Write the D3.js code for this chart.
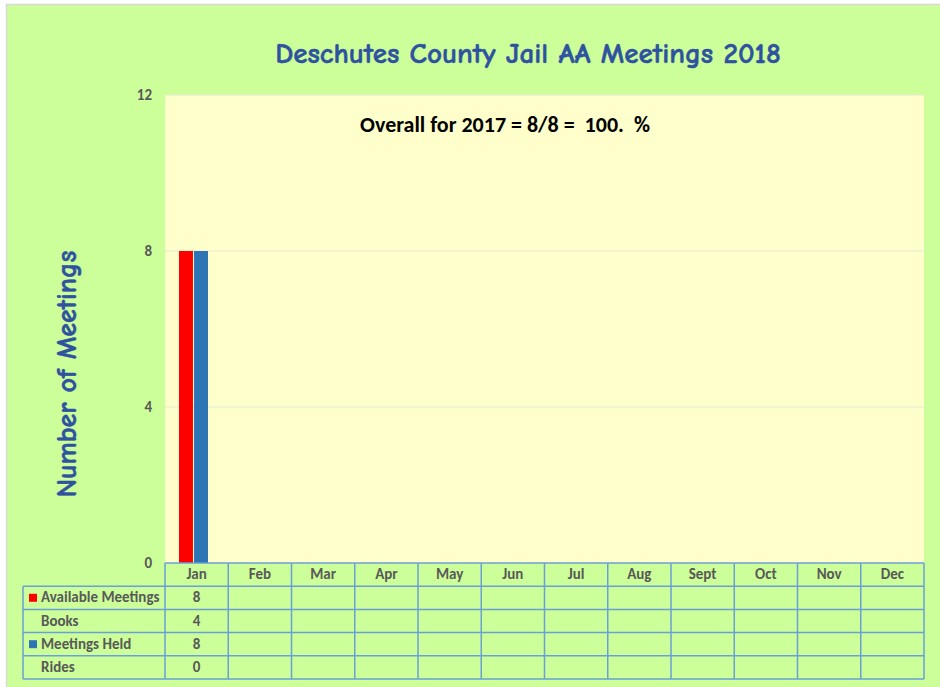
<!DOCTYPE html>
<html>
<head>
<meta charset="utf-8">
<script src="https://cdn.jsdelivr.net/npm/d3@7"></script>
<style>
  body { margin: 0; overflow: hidden; background: #fff; }
</style>
</head>
<body>
<script>
// chart data
const months = ['Jan', 'Feb', 'Mar', 'Apr', 'May', 'Jun', 'Jul', 'Aug', 'Sept', 'Oct', 'Nov', 'Dec'];
const availableMeetings = [8, null, null, null, null, null, null, null, null, null, null, null];
const books = [4, null, null, null, null, null, null, null, null, null, null, null];
const meetingsHeld = [8, null, null, null, null, null, null, null, null, null, null, null];
const rides = [0, null, null, null, null, null, null, null, null, null, null, null];
const yTicks = [0, 4, 8, 12];

const title = 'Deschutes County Jail AA Meetings 2018';
const note = 'Overall for 2017 = 8/8 =  100.  %';
const yLabel = 'Number of Meetings';

// rows of the data table (legend keys only on the bar series)
const tableRows = [
  { name: 'Available Meetings', values: availableMeetings, color: '#ff0000' },
  { name: 'Books', values: books, color: null },
  { name: 'Meetings Held', values: meetingsHeld, color: '#2e75b6' },
  { name: 'Rides', values: rides, color: null }
];
const barSeries = [tableRows[0], tableRows[2]];

const W = 940, H = 687;
const plot = { left: 165, right: 924, top: 95, bottom: 563 };
const rowH = 23.2;
const tableLeft = 23;

const cartoon = '"Comic Sans MS", "Comic Neue", "DejaVu Sans", sans-serif';
const bodyFont = 'Carlito, Calibri, Lato, "Open Sans", sans-serif';
const tableText = '#595959';

const svg = d3.select('body').append('svg')
  .attr('width', W)
  .attr('height', H);

// chart background + thin outer frame
svg.append('rect')
  .attr('x', 6.5).attr('y', 4.5)
  .attr('width', W).attr('height', H)
  .attr('fill', '#ccff99')
  .attr('stroke', '#d9d9d9')
  .attr('stroke-width', 1.5);

// plot area
svg.append('rect')
  .attr('x', plot.left).attr('y', plot.top)
  .attr('width', plot.right - plot.left)
  .attr('height', plot.bottom - plot.top)
  .attr('fill', '#ffffcc');

const x = d3.scaleBand()
  .domain(months)
  .range([plot.left, plot.right])
  .padding(0);

const y = d3.scaleLinear()
  .domain([0, 12])
  .range([plot.bottom, plot.top]);

// gridlines
svg.append('g')
  .selectAll('line')
  .data(yTicks.filter(d => d > 0))
  .join('line')
  .attr('x1', plot.left).attr('x2', plot.right)
  .attr('y1', d => y(d)).attr('y2', d => y(d))
  .attr('stroke', '#e4ead2')
  .attr('stroke-width', 1);

// y axis tick labels
const yAxis = svg.append('g')
  .attr('transform', `translate(${plot.left - 13},0)`)
  .call(d3.axisLeft(y).tickValues(yTicks).tickSize(0).tickPadding(0));
yAxis.select('.domain').remove();
yAxis.selectAll('text')
  .attr('fill', tableText)
  .style('font-family', bodyFont)
  .style('font-size', '15px')
  .style('font-weight', 'bold');

// bars: the pair sits a little left of the band centre, as in the source
const x1 = d3.scaleBand()
  .domain(barSeries.map(d => d.name))
  .range([14, 43])
  .paddingInner(0.07);

svg.append('g')
  .selectAll('g')
  .data(barSeries)
  .join('g')
  .attr('fill', d => d.color)
  .selectAll('rect')
  .data(s => months.map((m, i) => ({ m, v: s.values[i], s: s.name })).filter(d => d.v != null))
  .join('rect')
  .attr('x', d => x(d.m) + x1(d.s))
  .attr('width', x1.bandwidth())
  .attr('y', d => y(d.v))
  .attr('height', d => y(0) - y(d.v));

// data table
const table = svg.append('g');
const lineColor = '#6a9fd8';
const tableBottom = plot.bottom + rowH * (tableRows.length + 1);

function cellText(sel) {
  sel.attr('dominant-baseline', 'middle')
    .attr('fill', tableText)
    .style('font-family', bodyFont)
    .style('font-size', '15px')
    .style('font-weight', 'bold');
}

// header cells (month names)
table.selectAll('text.month')
  .data(months)
  .join('text')
  .attr('class', 'month')
  .attr('x', d => x(d) + x.bandwidth() / 2)
  .attr('y', plot.bottom + rowH / 2 + 1)
  .attr('text-anchor', 'middle')
  .call(cellText)
  .text(d => d);

// row labels, legend keys and values
tableRows.forEach((row, r) => {
  const cy = plot.bottom + rowH * (r + 1) + rowH / 2 + 1;
  if (row.color) {
    table.append('rect')
      .attr('x', tableLeft + 6).attr('y', cy - 5)
      .attr('width', 8).attr('height', 8)
      .attr('fill', row.color);
  }
  table.append('text')
    .attr('x', tableLeft + 18)
    .attr('y', cy)
    .call(cellText)
    .text(row.name);
  table.selectAll(null)
    .data(months.map((m, i) => ({ m, v: row.values[i] })).filter(d => d.v != null))
    .join('text')
    .attr('x', d => x(d.m) + x.bandwidth() / 2)
    .attr('y', cy)
    .attr('text-anchor', 'middle')
    .call(cellText)
    .text(d => d.v);
});

// table grid lines
const hLines = d3.range(tableRows.length + 2).map(i => plot.bottom + rowH * i);
table.selectAll('line.h')
  .data(hLines)
  .join('line')
  .attr('x1', (d, i) => i === 0 ? plot.left : tableLeft)
  .attr('x2', plot.right)
  .attr('y1', d => d).attr('y2', d => d)
  .attr('stroke', lineColor)
  .attr('stroke-width', 1.5);

const vLines = months.map(m => x(m)).concat([plot.right]);
table.selectAll('line.v')
  .data(vLines)
  .join('line')
  .attr('x1', d => d).attr('x2', d => d)
  .attr('y1', plot.bottom).attr('y2', tableBottom)
  .attr('stroke', lineColor)
  .attr('stroke-width', 1.5);

table.append('line')
  .attr('x1', tableLeft).attr('x2', tableLeft)
  .attr('y1', plot.bottom + rowH).attr('y2', tableBottom)
  .attr('stroke', lineColor)
  .attr('stroke-width', 1.5);

// title
svg.append('text')
  .attr('x', 528)
  .attr('y', 63)
  .attr('text-anchor', 'middle')
  .attr('fill', '#2f52a0')
  .attr('stroke', '#2f52a0')
  .attr('stroke-width', 0.5)
  .style('font-family', cartoon)
  .style('font-size', '29px')
  .style('font-weight', 'bold')
  .text(title);

// annotation (keeps the double spaces)
svg.append('text')
  .attr('x', 505)
  .attr('y', 132)
  .attr('text-anchor', 'middle')
  .attr('fill', '#000')
  .style('white-space', 'pre')
  .style('font-family', bodyFont)
  .style('font-size', '22px')
  .style('font-weight', 'bold')
  .text(note);

// y axis title
svg.append('text')
  .attr('transform', 'translate(76,374) rotate(-90)')
  .attr('text-anchor', 'middle')
  .attr('fill', '#2f52a0')
  .attr('stroke', '#2f52a0')
  .attr('stroke-width', 0.5)
  .style('font-family', cartoon)
  .style('font-size', '28px')
  .style('font-weight', 'bold')
  .text(yLabel);
</script>
</body>
</html>
